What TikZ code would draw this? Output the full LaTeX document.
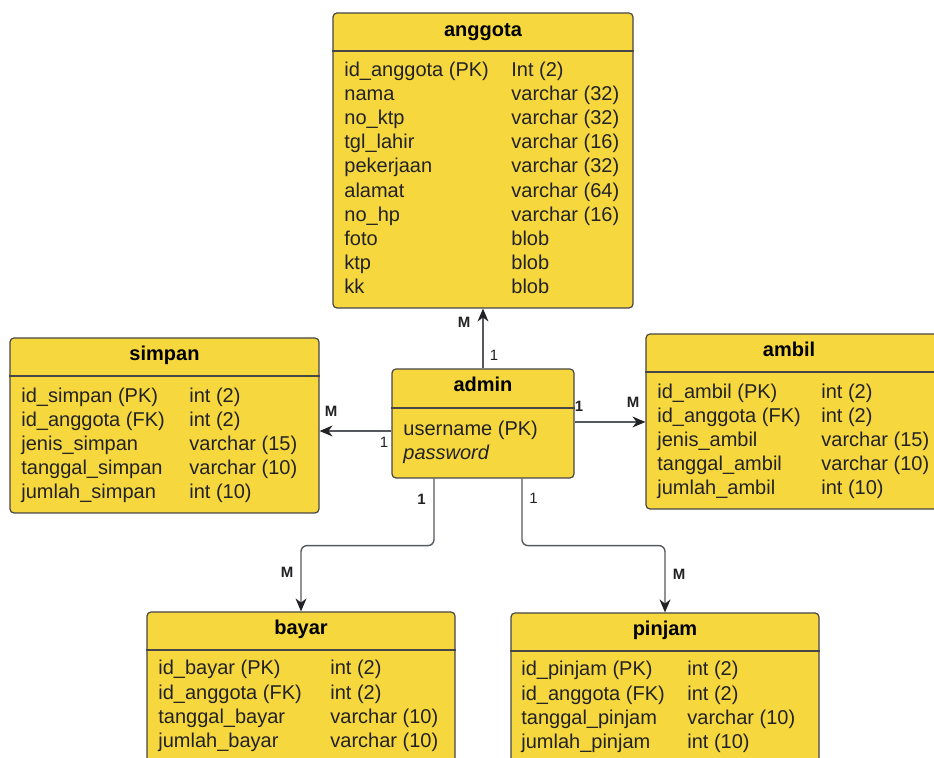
\documentclass[tikz,border=0pt]{standalone}
\usepackage{fontspec}
\setmainfont{Liberation Sans}
\usetikzlibrary{arrows.meta, positioning}

\definecolor{tblyellow}{RGB}{246,216,62}
\definecolor{tblborder}{RGB}{70,70,72}
\definecolor{linegray}{RGB}{85,88,94}
\definecolor{inkdark}{RGB}{34,34,36}

\begin{document}
\begin{tikzpicture}[
    x=0.5pt, y=-0.5pt,
    tbl/.style = {rectangle, rounded corners=2pt, draw=tblborder, line width=0.6pt,
                  fill=tblyellow, inner sep=0pt},
    hdr/.style = {draw=tblborder, line width=0.6pt},
    ttl/.style = {anchor=base, inner sep=0pt, font=\bfseries, text=black},
    col/.style = {anchor=base west, inner sep=0pt, align=left, text=inkdark,
                  font=\fontsize{10}{12.1}\selectfont},
    card/.style = {inner sep=0pt, text=inkdark, font=\fontsize{7.5}{9}\selectfont},
    cardb/.style = {card, font=\fontsize{7.5}{9}\selectfont\bfseries},
    rel/.style = {-{Stealth[length=6.5pt,width=5.5pt,color=inkdark]}, line width=0.7pt,
                  draw=linegray}
]

    \clip (0,0) rectangle (934,758);

    % anggota (text columns are placed by the baseline of their last row)
    \node[tbl, minimum width=150pt, minimum height=147.5pt] (anggota) at (483,160.5) {};
    \draw[hdr] (anggota.west |- 0,51) -- (anggota.east |- 0,51);
    \node[ttl] (anggota-t) at (483,37) {anggota};
    \node[col] (anggota-k) at (344,294) {id\_anggota (PK)\\nama\\no\_ktp\\tgl\_lahir\\pekerjaan\\
        alamat\\no\_hp\\foto\\ktp\\kk};
    \node[col] (anggota-v) at (511,294) {Int (2)\\varchar (32)\\varchar (32)\\varchar (16)\\
        varchar (32)\\varchar (64)\\varchar (16)\\blob\\blob\\blob};

    % simpan
    \node[tbl, minimum width=154.5pt, minimum height=87.5pt] (simpan) at (164.5,425.5) {};
    \draw[hdr] (simpan.west |- 0,376) -- (simpan.east |- 0,376);
    \node[ttl] (simpan-t) at (164.5,361) {simpan};
    \node[col] (simpan-k) at (21,499) {id\_simpan (PK)\\id\_anggota (FK)\\jenis\_simpan\\
        tanggal\_simpan\\jumlah\_simpan};
    \node[col] (simpan-v) at (189,499) {int (2)\\int (2)\\varchar (15)\\varchar (10)\\int (10)};

    % admin
    \node[tbl, minimum width=91pt, minimum height=54.5pt] (admin) at (483,423.5) {};
    \draw[hdr] (admin.west |- 0,408) -- (admin.east |- 0,408);
    \node[ttl] (admin-t) at (483,392) {admin};
    \node[col] (admin-k) at (403,460) {username (PK)\\\textit{password}};

    % ambil
    \node[tbl, minimum width=154.5pt, minimum height=87.5pt] (ambil) at (800.5,421.5) {};
    \draw[hdr] (ambil.west |- 0,372) -- (ambil.east |- 0,372);
    \node[ttl] (ambil-t) at (789,357) {ambil};
    \node[col] (ambil-k) at (657,495) {id\_ambil (PK)\\id\_anggota (FK)\\jenis\_ambil\\
        tanggal\_ambil\\jumlah\_ambil};
    \node[col] (ambil-v) at (821,495) {int (2)\\int (2)\\varchar (15)\\varchar (10)\\int (10)};

    % bayar
    \node[tbl, minimum width=154pt, minimum height=79pt] (bayar) at (301,691) {};
    \draw[hdr] (bayar.west |- 0,650) -- (bayar.east |- 0,650);
    \node[ttl] (bayar-t) at (301,635) {bayar};
    \node[col] (bayar-k) at (158,747.5) {id\_bayar (PK)\\id\_anggota (FK)\\tanggal\_bayar\\jumlah\_bayar};
    \node[col] (bayar-v) at (330,747.5) {int (2)\\int (2)\\varchar (10)\\varchar (10)};

    % pinjam
    \node[tbl, minimum width=154pt, minimum height=79pt] (pinjam) at (665,692) {};
    \draw[hdr] (pinjam.west |- 0,651) -- (pinjam.east |- 0,651);
    \node[ttl] (pinjam-t) at (665,636) {pinjam};
    \node[col] (pinjam-k) at (521,748.5) {id\_pinjam (PK)\\id\_anggota (FK)\\tanggal\_pinjam\\jumlah\_pinjam};
    \node[col] (pinjam-v) at (687,748.5) {int (2)\\int (2)\\varchar (10)\\int (10)};

    % relations
    \draw[rel] (admin.north) -- (anggota.south);
    \draw[rel] ([yshift=-3.75pt]admin.west) -- ([yshift=-3.75pt]admin.west -| simpan.east);
    \draw[rel] ([yshift=0.75pt]admin.east) -- ([yshift=0.75pt]admin.east -| ambil.west);
    \draw[rel, rounded corners=3pt] ([xshift=-24.5pt]admin.south) -- ++(0,67) -| (bayar.north);
    \draw[rel, rounded corners=3pt] ([xshift=19.5pt]admin.south) -- ++(0,67) -| (pinjam.north);

    % cardinalities
    \node[cardb] (m-anggota) at (464,322) {M};
    \node[card] (o-anggota) at (494,355) {1};
    \node[cardb] (m-simpan) at (331,411) {M};
    \node[card] (o-simpan) at (384,442) {1};
    \node[cardb] (m-ambil) at (633,402) {M};
    \node[cardb] (o-ambil) at (579,406) {1};
    \node[cardb] (m-bayar) at (287,572) {M};
    \node[cardb] (o-bayar) at (421.5,499) {1};
    \node[cardb] (m-pinjam) at (679,574) {M};
    \node[card] (o-pinjam) at (533.5,498) {1};

\end{tikzpicture}
\end{document}
